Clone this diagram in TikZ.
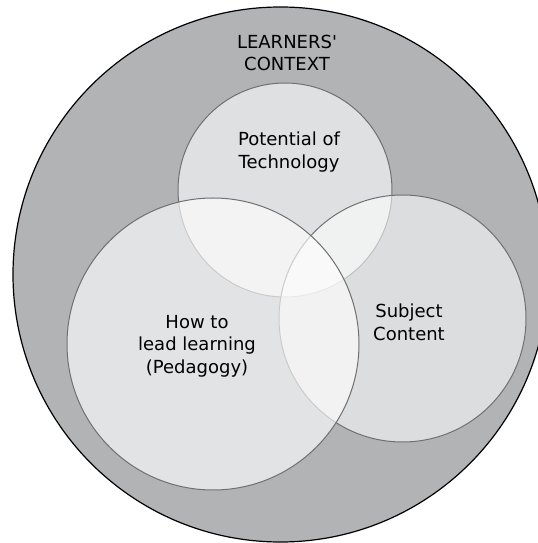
\documentclass[tikz,border=0pt]{standalone}
\usepackage{fontspec}
\setmainfont{DejaVu Sans}
\definecolor{context_grey}{HTML}{B1B3B5}
\definecolor{rim_grey}{HTML}{707070}

\begin{document}
\begin{tikzpicture}[x=0.75pt,y=0.75pt,
        venntext/.style={align=center, font=\fontsize{13.5}{17}\selectfont},
        venn/.style={draw=rim_grey, line width=0.75pt, fill=white, fill opacity=0.6}]
        % Cadre
        \useasboundingbox (0,0) rectangle (538,543);
        \clip (0,0) rectangle (538,543);
        % Contexte des apprenants
        \draw[fill=context_grey, line width=0.9pt] (280.5,268.5) circle (267.5);
        % Trois cercles
        \draw[venn] (285,353) circle (107);
        \draw[venn, fill opacity=0.56] (402.5,224.5) circle (123.5);
        \draw[venn, fill opacity=0.64] (213,199) circle (146);
        % Textes
        \node[venntext] (context) at (287,490) {LEARNERS\textquotesingle\\CONTEXT};
        \node[venntext] (technology) at (289,391) {Potential of\\Technology};
        \node[venntext] (pedagogy) at (197,197) {How to\\lead learning\\(Pedagogy)};
        \node[venntext] (subject) at (409,221) {Subject\\Content};
    \end{tikzpicture}
\end{document}
